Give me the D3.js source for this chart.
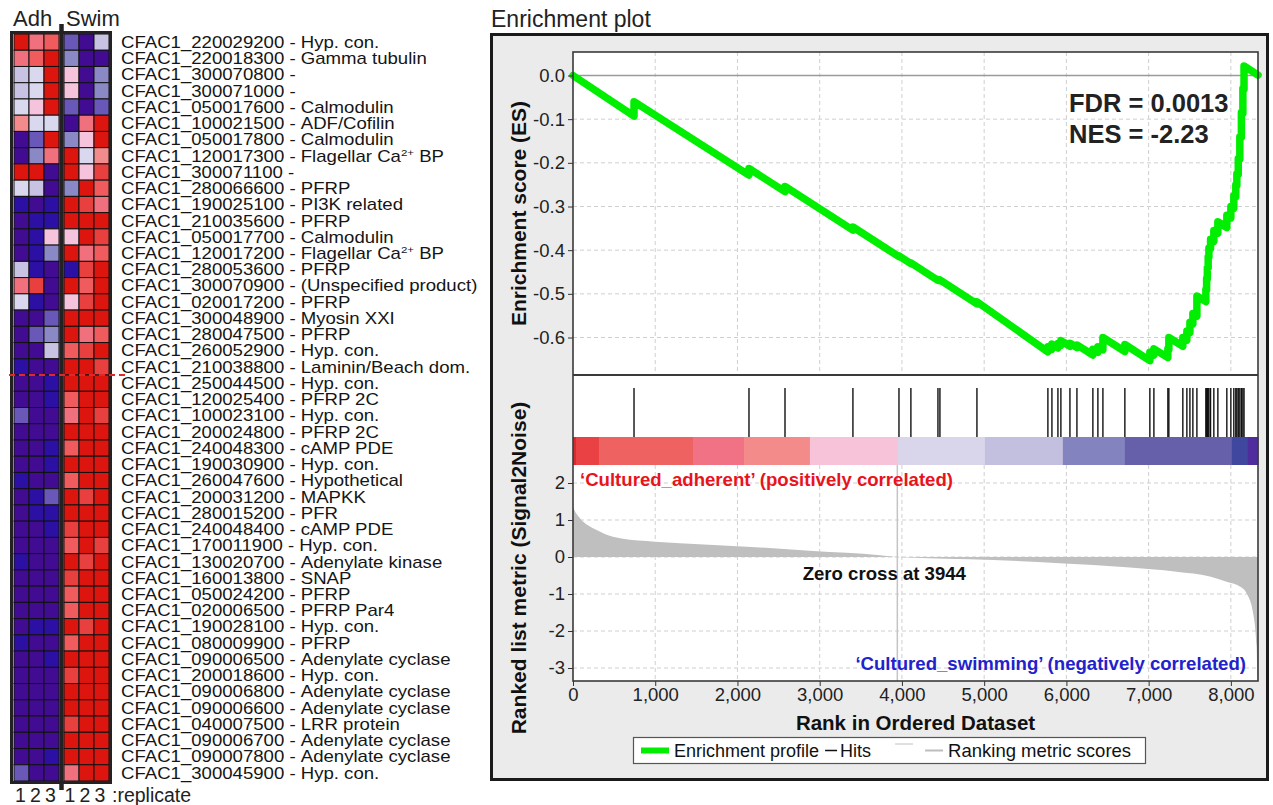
<!DOCTYPE html>
<html><head><meta charset="utf-8">
<script src="https://cdn.jsdelivr.net/npm/d3@7"></script>
<style>
body{margin:0;background:#fff;}
svg{display:block;font-family:"Liberation Sans",Arial,Helvetica,sans-serif;}
</style></head><body>
<svg id="chart" width="1273" height="805"></svg>
<script>
// ---------------- DATA ----------------
const geneIds = ["CFAC1_220029200","CFAC1_220018300","CFAC1_300070800","CFAC1_300071000","CFAC1_050017600","CFAC1_100021500","CFAC1_050017800","CFAC1_120017300","CFAC1_300071100","CFAC1_280066600","CFAC1_190025100","CFAC1_210035600","CFAC1_050017700","CFAC1_120017200","CFAC1_280053600","CFAC1_300070900","CFAC1_020017200","CFAC1_300048900","CFAC1_280047500","CFAC1_260052900","CFAC1_210038800","CFAC1_250044500","CFAC1_120025400","CFAC1_100023100","CFAC1_200024800","CFAC1_240048300","CFAC1_190030900","CFAC1_260047600","CFAC1_200031200","CFAC1_280015200","CFAC1_240048400","CFAC1_170011900","CFAC1_130020700","CFAC1_160013800","CFAC1_050024200","CFAC1_020006500","CFAC1_190028100","CFAC1_080009900","CFAC1_090006500","CFAC1_200018600","CFAC1_090006800","CFAC1_090006600","CFAC1_040007500","CFAC1_090006700","CFAC1_090007800","CFAC1_300045900"];
const geneNames = ["Hyp. con.","Gamma tubulin","","","Calmodulin","ADF/Cofilin","Calmodulin","Flagellar Ca{2+} BP","","PFRP","PI3K related","PFRP","Calmodulin","Flagellar Ca{2+} BP","PFRP","(Unspecified product)","PFRP","Myosin XXI","PFRP","Hyp. con.","Laminin/Beach dom.","Hyp. con.","PFRP 2C","Hyp. con.","PFRP 2C","cAMP PDE","Hyp. con.","Hypothetical","MAPKK","PFR","cAMP PDE","Hyp. con.","Adenylate kinase","SNAP","PFRP","PFRP Par4","Hyp. con.","PFRP","Adenylate cyclase","Hyp. con.","Adenylate cyclase","Adenylate cyclase","LRR protein","Adenylate cyclase","Adenylate cyclase","Hyp. con."];
const leadingEdgeStart = 21; // index of first leading-edge gene

const groups = ["Adh","Swim"];
const replicates = ["1","2","3"];
// expression level per sample (0 = lowest ... 11 = highest)
const adh1  = [11,8,4,4,5,7,0,0,11,5, 1,0,0,0,4,8,5,0,0,0,1, 0,0,2,0,0,0,1,0,0,0, 0,1,0,0,0,0,1,0,0,0, 0,0,0,0,2];
const adh2  = [8,9,5,5,6,5,2,3,11,4, 0,1,1,1,1,10,1,0,2,0,0, 0,0,0,0,0,0,0,1,1,0, 0,0,0,0,0,1,0,0,0,0, 0,0,0,0,0];
const adh3  = [9,11,11,11,11,5,11,8,0,0, 1,1,6,3,0,0,0,2,3,4,0, 1,1,0,0,1,1,0,2,1,1, 0,0,0,0,0,1,0,1,0,0, 0,0,0,1,0];
const swim1 = [2,3,6,6,2,0,3,11,11,3, 11,11,6,11,1,11,6,11,11,9,11, 11,9,8,11,9,11,9,11,11,10, 9,11,10,9,9,11,9,11,10,11, 11,10,11,11,8];
const swim2 = [0,0,0,0,0,8,6,5,6,11, 10,11,11,8,10,9,10,11,8,10,11, 11,11,11,11,11,11,11,10,11,11, 11,10,11,11,11,10,11,11,11,11, 11,11,11,11,11];
const swim3 = [4,0,3,3,2,11,11,7,10,9, 8,11,10,9,11,11,11,11,9,11,10, 11,11,10,11,11,11,11,11,11,11, 10,11,11,11,11,11,11,11,11,11, 11,11,11,11,11];
const levelColors = ["#420c92","#2c10a4","#6a58b8","#8a89c6","#c8c3e2","#d9d8ef","#f6c3dd","#f38a8c","#f1707e","#f05b5d","#e8403f","#dd150f"];

const rankMax = 8330;
const rankTicks = [0,1000,2000,3000,4000,5000,6000,7000,8000];
const esTicks = [0,-0.1,-0.2,-0.3,-0.4,-0.5,-0.6];
const metricTicks = [2,1,0,-1,-2,-3];

const hitRanks = [742,2140,2578,3404,3964,4109,4438,4462,4912,5775,5824,5897,5933,6043,6128,6322,6383,6444,6711,7015,7064,7234,7246,7416,7465,7502,7538,7587,7696,7705,7714,7724,7733,7753,7793,7842,7951,8000,8036,8060,8073,8090,8109,8128,8146,8160];

const esCurve = [
[0,0],
[742,-0.093],[742,-0.060],
[2140,-0.228],[2140,-0.213],
[2578,-0.266],[2578,-0.254],
[3404,-0.354],[3404,-0.347],
[3964,-0.415],[3964,-0.413],
[4109,-0.431],[4109,-0.429],
[4438,-0.469],[4438,-0.467],
[4462,-0.470],[4462,-0.468],
[4912,-0.523],[4912,-0.518],
[5775,-0.633],[5775,-0.621],
[5824,-0.627],[5824,-0.615],
[5897,-0.624],[5897,-0.614],
[5933,-0.618],[5933,-0.607],
[6043,-0.620],[6043,-0.613],
[6128,-0.623],[6128,-0.617],
[6322,-0.640],[6322,-0.627],
[6383,-0.634],[6383,-0.621],
[6444,-0.628],[6444,-0.600],
[6711,-0.632],[6711,-0.616],
[7015,-0.653],[7015,-0.634],
[7064,-0.640],[7064,-0.626],
[7234,-0.646],[7234,-0.626],
[7246,-0.628],[7246,-0.600],
[7416,-0.620],[7416,-0.600],
[7465,-0.606],[7465,-0.585],
[7502,-0.589],[7502,-0.565],
[7538,-0.569],[7538,-0.545],
[7587,-0.551],[7587,-0.505],
[7696,-0.518],[7696,-0.490],
[7705,-0.491],[7705,-0.465],
[7714,-0.466],[7714,-0.440],
[7724,-0.441],[7724,-0.415],
[7733,-0.416],[7733,-0.395],
[7753,-0.397],[7753,-0.375],
[7793,-0.380],[7793,-0.355],
[7842,-0.361],[7842,-0.335],
[7951,-0.348],[7951,-0.320],
[8000,-0.326],[8000,-0.300],
[8036,-0.304],[8036,-0.275],
[8060,-0.278],[8060,-0.250],
[8073,-0.252],[8073,-0.225],
[8090,-0.227],[8090,-0.190],
[8109,-0.192],[8109,-0.140],
[8128,-0.142],[8128,-0.085],
[8146,-0.087],[8146,-0.030],
[8160,-0.032],[8160,0.022],
[8330,0.001]
];

const metricCurve = [[0,1.36],[16,1.27],[85,1.05],[288,0.73],[486,0.55],[896,0.43],[1301,0.37],[2112,0.28],[2918,0.16],[3733,0.05],[3944,0],[5110,-0.08],[5921,-0.17],[6732,-0.28],[7340,-0.40],[7745,-0.53],[7948,-0.67],[8110,-0.80],[8191,-0.98],[8271,-1.52],[8313,-2.42],[8325,-3.23],[8330,-3.3]];
const zeroCross = 3944;

const colorBarBreaks = [0,36,316,1459,2079,2881,3951,5009,5957,6711,8012,8207,8330];
const colorBarColors = ["#d62b2f","#ea4244","#ef6262","#f07284","#f28b8a","#f7c3d9","#d9d6eb","#c3bfde","#8283bf","#6560a9","#3f479e","#4f2d9c"];

const fdrText = "FDR = 0.0013";
const nesText = "NES = -2.23";
const posLabel = "\u2018Cultured_adherent\u2019 (positively correlated)";
const negLabel = "\u2018Cultured_swimming\u2019 (negatively correlated)";

// ---------------- DRAW ----------------
const svg = d3.select("#chart");
const FONT = "'Liberation Sans', Arial, Helvetica, sans-serif";

// ===== Heatmap =====
const rowScale = d3.scaleBand().domain(geneIds).range([34, 781]);
const colScales = {
  Adh: d3.scaleBand().domain(replicates).range([14, 59]),
  Swim: d3.scaleBand().domain(replicates).range([64, 109])
};
const colorScale = d3.scaleOrdinal().domain(d3.range(levelColors.length)).range(levelColors);
const sampleCols = [
  {g:"Adh", r:"1", v:adh1},{g:"Adh", r:"2", v:adh2},{g:"Adh", r:"3", v:adh3},
  {g:"Swim", r:"1", v:swim1},{g:"Swim", r:"2", v:swim2},{g:"Swim", r:"3", v:swim3}
];
const hm = svg.append("g");
sampleCols.forEach(c => {
  hm.selectAll(null).data(geneIds).enter().append("rect")
    .attr("x", colScales[c.g](c.r))
    .attr("y", d => rowScale(d))
    .attr("width", colScales[c.g].bandwidth())
    .attr("height", rowScale.bandwidth())
    .attr("fill", (d,i) => colorScale(c.v[i]))
    .attr("stroke", "#111").attr("stroke-width", 1);
});
// frame
hm.append("rect").attr("x", 11.5).attr("y", 32.5).attr("width", 99).attr("height", 750)
  .attr("fill", "none").attr("stroke", "#222").attr("stroke-width", 3);
hm.append("line").attr("x1", 61.5).attr("x2", 61.5).attr("y1", 24).attr("y2", 790)
  .attr("stroke", "#222").attr("stroke-width", 4.5);
// leading edge dashed line
const leY = rowScale(geneIds[leadingEdgeStart]);
hm.append("line").attr("x1", 9).attr("x2", 126).attr("y1", leY).attr("y2", leY)
  .attr("stroke", "#e2262a").attr("stroke-width", 2).attr("stroke-dasharray", "6,4");
// headers
hm.append("text").attr("x", 13).attr("y", 26).attr("font-size", 22).attr("fill", "#222").text(groups[0]);
hm.append("text").attr("x", 66).attr("y", 26).attr("font-size", 22).attr("fill", "#222").text(groups[1]);
sampleCols.forEach(c => {
  hm.append("text").attr("x", colScales[c.g](c.r) + colScales[c.g].bandwidth()/2 + (c.g === "Swim" ? -1.5 : -1)).attr("y", 802)
    .attr("text-anchor", "middle").attr("font-size", 19.5).attr("fill", "#222").text(c.r);
});
hm.append("text").attr("x", 112).attr("y", 802).attr("font-size", 19.5).attr("fill", "#222").text(":replicate");
// gene labels (slightly condensed vertically, as in the reference)
geneIds.forEach((id, i) => {
  const yc = rowScale(id) + rowScale.bandwidth()/2;
  const t = hm.append("text")
    .attr("transform", `translate(121,${yc}) scale(1,0.86)`)
    .attr("x", 0).attr("y", 0).attr("dy", "0.36em")
    .attr("font-size", 18.6).attr("fill", "#151515");
  t.append("tspan").text(id + " - ");
  geneNames[i].split(/[{}]/).forEach((p, k) => {
    if (!p) return;
    const s = t.append("tspan").text(p);
    if (k % 2 === 1) s.attr("baseline-shift", "super").attr("font-size", 11.5);
  });
});

// ===== Enrichment plot =====
const L = 573, R = 1258;
const esTop = 52, esBot = 375, hitTop = 388, barTop = 437, barBot = 465, mBot = 681;
const x = d3.scaleLinear().domain([0, rankMax]).range([L, R]);
const yES = d3.scaleLinear().domain([0, -0.6]).range([75.5, 337.5]);
const yM = d3.scaleLinear().domain([0, -3]).range([557, 668]);

const ep = svg.append("g");
ep.append("rect").attr("x", 491.5).attr("y", 34.5).attr("width", 776).attr("height", 745)
  .attr("fill", "#ebebeb").attr("stroke", "#1a1a1a").attr("stroke-width", 3);
svg.append("text").attr("x", 491).attr("y", 27).attr("font-size", 23).attr("fill", "#222").text("Enrichment plot");
ep.append("rect").attr("x", L).attr("y", esTop).attr("width", R - L).attr("height", mBot - esTop).attr("fill", "#fff");

// grids
const grid = ep.append("g").attr("stroke", "#cfcfcf").attr("stroke-width", 1).attr("stroke-dasharray", "4,3");
rankTicks.filter(d => d > 0).forEach(d => {
  grid.append("line").attr("x1", x(d)).attr("x2", x(d)).attr("y1", esTop).attr("y2", esBot);
  grid.append("line").attr("x1", x(d)).attr("x2", x(d)).attr("y1", barBot).attr("y2", mBot);
});
esTicks.filter(d => d !== 0).forEach(d => {
  grid.append("line").attr("x1", L).attr("x2", R).attr("y1", yES(d)).attr("y2", yES(d));
});
metricTicks.forEach(d => {
  grid.append("line").attr("x1", L).attr("x2", R).attr("y1", yM(d)).attr("y2", yM(d));
});
// ES zero line
ep.append("line").attr("x1", L).attr("x2", R).attr("y1", yES(0)).attr("y2", yES(0))
  .attr("stroke", "#9a9a9a").attr("stroke-width", 1.5);

// ranked metric area
const area = d3.area().x(d => x(d[0])).y0(yM(0)).y1(d => yM(d[1])).curve(d3.curveMonotoneX);
ep.append("path").datum(metricCurve).attr("d", area).attr("fill", "#bfbfbf");
// zero cross line
ep.append("line").attr("x1", x(zeroCross)).attr("x2", x(zeroCross)).attr("y1", barBot).attr("y2", mBot)
  .attr("stroke", "#c4c4c4").attr("stroke-width", 1.5);

// color bar
ep.selectAll(null).data(colorBarColors).enter().append("rect")
  .attr("x", (d,i) => x(colorBarBreaks[i]))
  .attr("width", (d,i) => x(colorBarBreaks[i+1]) - x(colorBarBreaks[i]) + 0.5)
  .attr("y", barTop).attr("height", barBot - barTop).attr("fill", d => d);
// hits
ep.selectAll(null).data(hitRanks).enter().append("line")
  .attr("x1", d => x(d)).attr("x2", d => x(d)).attr("y1", hitTop).attr("y2", barTop)
  .attr("stroke", "#111").attr("stroke-width", 1.4);

// ES curve
const line = d3.line().x(d => x(d[0])).y(d => yES(d[1]));
ep.append("path").datum(esCurve).attr("d", line).attr("fill", "none")
  .attr("stroke", "#00ee00").attr("stroke-width", 7.5).attr("stroke-linejoin", "round").attr("stroke-linecap", "round");

// frames
const fr = ep.append("g").attr("fill", "none").attr("stroke", "#3a3a3a").attr("stroke-width", 1.6);
fr.append("rect").attr("x", L).attr("y", esTop).attr("width", R - L).attr("height", mBot - esTop);
fr.append("line").attr("x1", L).attr("x2", R).attr("y1", esBot).attr("y2", esBot).attr("stroke-width", 2);

// axes
function styleAxis(g) {
  g.select(".domain").remove();
  g.attr("font-family", FONT).attr("font-size", 18.5);
  g.selectAll(".tick line").attr("stroke", "#333");
  g.selectAll(".tick text").attr("fill", "#222");
}
ep.append("g").attr("transform", `translate(${L},0)`)
  .call(d3.axisLeft(yES).tickValues(esTicks).tickFormat(d => d.toFixed(1)).tickSize(5).tickPadding(3))
  .call(styleAxis);
ep.append("g").attr("transform", `translate(${L},0)`)
  .call(d3.axisLeft(yM).tickValues(metricTicks).tickFormat(d => String(d)).tickSize(5).tickPadding(3))
  .call(styleAxis);
ep.append("g").attr("transform", `translate(0,${mBot})`)
  .call(d3.axisBottom(x).tickValues(rankTicks).tickFormat(d3.format(",")).tickSize(5).tickPadding(2))
  .call(styleAxis);

// axis titles
ep.append("text").attr("transform", `translate(526,${(esTop+esBot)/2}) rotate(-90)`)
  .attr("text-anchor", "middle").attr("font-size", 21).attr("font-weight", "bold").attr("fill", "#111")
  .text("Enrichment score (ES)");
ep.append("text").attr("transform", `translate(526,568) rotate(-90)`)
  .attr("text-anchor", "middle").attr("font-size", 21).attr("font-weight", "bold").attr("fill", "#111")
  .text("Ranked list metric (Signal2Noise)");
ep.append("text").attr("x", (L+R)/2).attr("y", 730).attr("text-anchor", "middle")
  .attr("font-size", 20.5).attr("font-weight", "bold").attr("fill", "#111").text("Rank in Ordered Dataset");

// annotations
ep.append("text").attr("x", 1069).attr("y", 112).attr("font-size", 25.5).attr("font-weight", "bold").attr("fill", "#222").text(fdrText);
ep.append("text").attr("x", 1069).attr("y", 143).attr("font-size", 25.5).attr("font-weight", "bold").attr("fill", "#222").text(nesText);
ep.append("text").attr("x", x(0) + 7).attr("y", 486).attr("font-size", 18.6).attr("font-weight", "bold").attr("fill", "#e8141c").text(posLabel);
ep.append("text").attr("x", R - 12).attr("y", 670).attr("text-anchor", "end").attr("font-size", 18.6).attr("font-weight", "bold").attr("fill", "#2222cc").text(negLabel);
ep.append("text").attr("x", x(zeroCross) - 13).attr("y", 580).attr("text-anchor", "middle").attr("font-size", 18.6).attr("font-weight", "bold").attr("fill", "#111").text("Zero cross at " + zeroCross);

// legend
const lg = ep.append("g");
lg.append("rect").attr("x", 633.5).attr("y", 737.5).attr("width", 512).attr("height", 26).attr("fill", "#fff").attr("stroke", "#555").attr("stroke-width", 1.2);
const lgY = 750.5;
let cx = 641;
lg.append("line").attr("x1", cx).attr("x2", cx + 28).attr("y1", lgY).attr("y2", lgY).attr("stroke", "#00ee00").attr("stroke-width", 6);
cx += 33;
let t1 = lg.append("text").attr("x", cx).attr("y", 757).attr("font-size", 18).attr("fill", "#111").text("Enrichment profile");
cx += t1.node().getComputedTextLength() + 6;
lg.append("line").attr("x1", cx).attr("x2", cx + 12).attr("y1", lgY).attr("y2", lgY).attr("stroke", "#111").attr("stroke-width", 1.5);
cx += 15;
let t2 = lg.append("text").attr("x", cx).attr("y", 757).attr("font-size", 18).attr("fill", "#111").text("Hits");
cx += t2.node().getComputedTextLength() + 24;
lg.append("line").attr("x1", cx).attr("x2", cx + 18).attr("y1", 744).attr("y2", 744).attr("stroke", "#d6d6d6").attr("stroke-width", 1.5);
cx += 30;
lg.append("line").attr("x1", cx).attr("x2", cx + 18).attr("y1", lgY).attr("y2", lgY).attr("stroke", "#bdbdbd").attr("stroke-width", 2);
cx += 23;
lg.append("text").attr("x", cx).attr("y", 757).attr("font-size", 18.5).attr("fill", "#111").text("Ranking metric scores");
</script>
</body></html>
